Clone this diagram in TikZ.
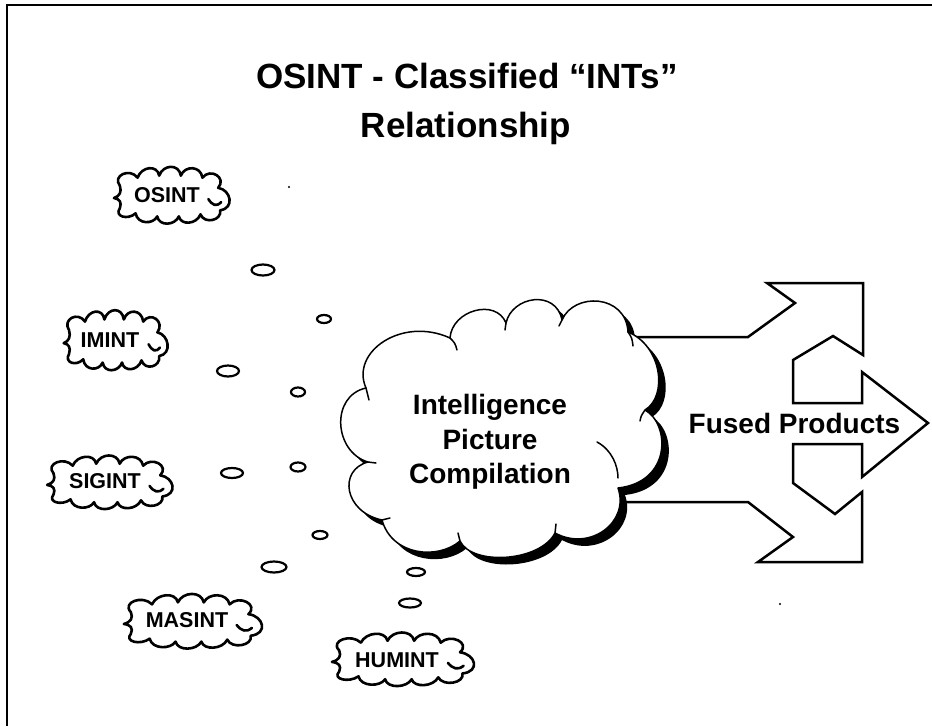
\documentclass[tikz,border=0pt]{standalone}
\usepackage{fontspec}
\setmainfont{Liberation Sans}
\usetikzlibrary{shapes.geometric}
\newcommand\drawsmallcloud[4]{%
  \begin{scope}[shift={(#1,#2)}, xscale=#3/120, yscale=#4/52]
    \draw[smallcloudline] (-58,2)
      .. controls (-52,0) and (-50,-4) .. (-52,-10)
      .. controls (-60,-20) and (-42,-28) .. (-34,-18)
      .. controls (-30,-29) and (-14,-31) .. (-12,-20)
      .. controls (-8,-31) and (8,-32) .. (10,-20)
      .. controls (14,-30) and (30,-30) .. (32,-18)
      .. controls (40,-28) and (57,-18) .. (48,-8)
      .. controls (61,-6) and (65,12) .. (50,14)
      .. controls (52,24) and (34,28) .. (30,18)
      .. controls (26,28) and (10,29) .. (8,20)
      .. controls (4,29) and (-12,30) .. (-14,20)
      .. controls (-18,28) and (-34,28) .. (-36,17)
      .. controls (-44,24) and (-58,20) .. (-52,12)
      .. controls (-50,6) and (-52,3) .. (-58,2) -- cycle;
    \draw[smallcloudline, fill=none] (38,3) .. controls (42,9) and (46,11) .. (51,6);
  \end{scope}}
\def\mainpath{(366,388)
  .. controls (350,352) and (402,316) .. (450,338)
  .. controls (452,310) and (496,298) .. (506,323)
  .. controls (512,296) and (556,289) .. (562,320)
  .. controls (574,292) and (626,294) .. (628,332)
  .. controls (662,346) and (668,396) .. (645,410)
  .. controls (670,424) and (672,482) .. (618,488)
  .. controls (630,522) and (590,552) .. (555,533)
  .. controls (540,562) and (472,566) .. (460,541)
  .. controls (438,560) and (392,556) .. (382,520)
  .. controls (344,512) and (338,470) .. (368,462)
  .. controls (334,452) and (330,396) .. (366,388) -- cycle}
\begin{document}
\begin{tikzpicture}[x=1pt,y=-1pt,
  smallcloudline/.style={draw, fill=white, line width=2.6pt, line join=round, line cap=round},
  smalltext/.style={font=\bfseries\fontsize{21.5}{21.5}\selectfont, inner sep=0pt},
  bubble/.style={ellipse, draw, fill=white, line width=2.2pt, inner sep=0pt},
  mainline/.style={draw, fill=white, line width=1.5pt, line join=round},
  crease/.style={line width=1.5pt, line cap=round},
  arrowshape/.style={draw, fill=white, line width=2.5pt, line join=miter},
  titletext/.style={font=\bfseries\fontsize{35}{35}\selectfont, inner sep=0pt, anchor=base},
  bigtext/.style={font=\bfseries\fontsize{28}{34.5}\selectfont, inner sep=0pt, align=center}
]
\useasboundingbox (0,0) rectangle (932,726);
\fill[white] (0,0) rectangle (932,726);
% frame (scanned edge)
\draw[line width=1.5pt] (7,726) -- (7,5) -- (932,5);

% title
\node[titletext] (title1) at (467,88) {OSINT - Classified “INTs”};
\node[titletext] (title2) at (466,137) {Relationship};

% fused products arrow
\draw[arrowshape] (600,337) -- (748,337) -- (795,303) -- (767,283) -- (863,283)
  -- (863,355) -- (833,336) -- (793,360) -- (793,403) -- (862,403) -- (862,372)
  -- (928,423) -- (862,477) -- (862,444) -- (793,444) -- (793,483) -- (835,514)
  -- (862,492) -- (862,562) -- (758,562) -- (793,537) -- (748,502) -- (600,502) -- cycle;
\node[font=\bfseries\fontsize{28}{28}\selectfont, inner sep=0pt, anchor=base] (fused) at (794.5,433) {Fused Products};

% main cloud with shadow
\fill[black, shift={(7,7)}] \mainpath;
\path[mainline] \mainpath;
\draw[crease] (366,388) -- (369,400);
\draw[crease] (450,338) .. controls (455,343) .. (457,350);
\draw[crease] (506,323) -- (505,330);
\draw[crease] (562,320) -- (559,326);
\draw[crease] (628,332) .. controls (632,338) .. (633,346);
\draw[crease] (645,410) .. controls (641,416) .. (640,421);
\draw[crease] (368,462) -- (376,463);
\draw[crease] (597,442) .. controls (612,450) and (618,466) .. (618,478);
\draw[crease] (555,533) -- (556,524);
\draw[crease] (460,541) -- (458,533);
\draw[crease] (382,520) -- (390,518);
\node[bigtext, anchor=north] (ipc) at (490,394.5) {Intelligence\\Picture\\Compilation};

% bubbles
\node[bubble, minimum width=23, minimum height=11] (b1) at (263,270) {};
\node[bubble, minimum width=14, minimum height=8] (b2) at (324,319) {};
\node[bubble, minimum width=22, minimum height=11] (b3) at (228,371) {};
\node[bubble, minimum width=14, minimum height=9] (b4) at (298,392) {};
\node[bubble, minimum width=22, minimum height=10] (b5) at (232,473) {};
\node[bubble, minimum width=15, minimum height=9] (b6) at (298,467) {};
\node[bubble, minimum width=15, minimum height=8] (b7) at (320,535) {};
\node[bubble, minimum width=25, minimum height=11] (b8) at (274,567) {};
\node[bubble, minimum width=18, minimum height=8] (b9) at (416,572) {};
\node[bubble, minimum width=22, minimum height=9] (b10) at (410,603) {};

% small clouds
\drawsmallcloud{171}{196}{118}{53}
\node[smalltext] (osint) at (167,195) {OSINT};
\drawsmallcloud{115}{341}{106}{56}
\node[smalltext] (imint) at (110,340) {IMINT};
\drawsmallcloud{109}{483}{128}{50}
\node[smalltext] (sigint) at (105,481) {SIGINT};
\drawsmallcloud{192}{622}{141}{51}
\node[smalltext] (masint) at (187,620) {MASINT};
\drawsmallcloud{402}{660}{145}{50}
\node[smalltext] (humint) at (397,660) {HUMINT};

% scan specks
\fill (289,187) circle (1.2);
\fill (780,604) circle (1.2);
\end{tikzpicture}
\end{document}
